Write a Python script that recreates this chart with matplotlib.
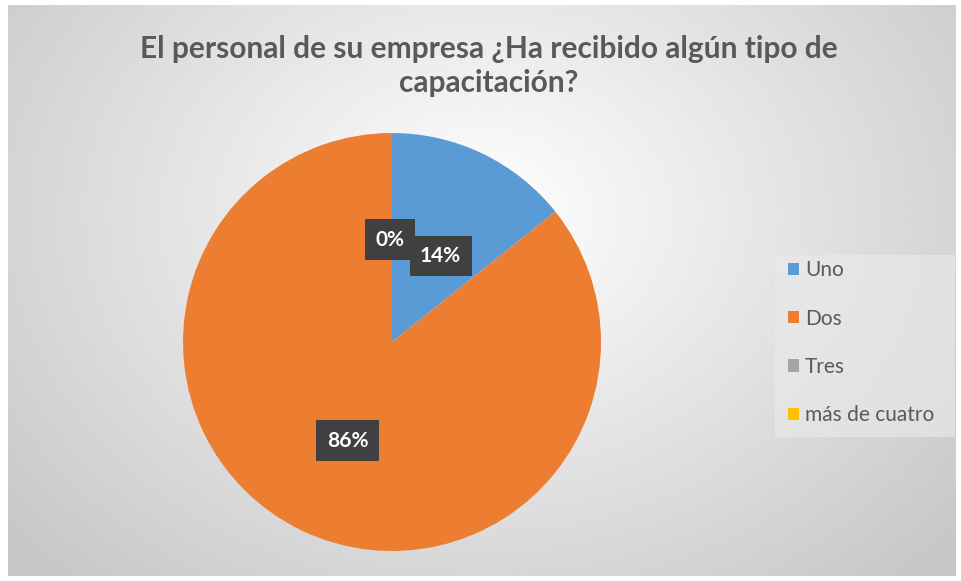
import numpy as np
import matplotlib
matplotlib.use("Agg")
import matplotlib.pyplot as plt
from matplotlib.patches import Rectangle

plt.rcParams["font.family"] = ["Lato", "DejaVu Sans"]

categories = ["Uno", "Dos", "Tres", "más de cuatro"]
counts = [1, 6, 0, 0]
colors = ["#5B9BD5", "#ED7D31", "#A5A5A5", "#FFC000"]
title = "El personal de su empresa ¿Ha recibido algún tipo de\ncapacitación?"

W, H = 961, 581
fig = plt.figure(figsize=(W / 100, H / 100), dpi=100)
fig.patch.set_facecolor("white")

# radial gray gradient background
bg = fig.add_axes([0.008, 0.008, 0.986, 0.984])
yy, xx = np.mgrid[0:300, 0:500]
d = np.sqrt(((xx - 250) / 330.0) ** 2 + ((yy - 110) / 260.0) ** 2)
shade = np.clip(1.0 - 0.22 * d, 0.78, 1.0)
bg.imshow(shade, cmap="gray", vmin=0, vmax=1, aspect="auto",
          extent=[0, 1, 0, 1], origin="upper")
bg.set_xlim(0, 1)
bg.set_ylim(0, 1)
bg.axis("off")

# pie
ax = fig.add_axes([183 / W, 1 - 551 / H, 418 / W, 418 / H])
wedges, texts, autotexts = ax.pie(
    counts, colors=colors, startangle=90, counterclock=False,
    autopct=lambda p: f"{p:.0f}%", pctdistance=0.49,
    wedgeprops=dict(linewidth=0), radius=1.0)
for t in autotexts:
    t.set_color("white")
    t.set_fontsize(15)
    t.set_fontweight("bold")
    t.set_bbox(dict(boxstyle="square,pad=0.5", fc="#404040", ec="none"))
# the 0% labels sit to the left of the 14% one as in the original
x0, y0 = autotexts[0].get_position()
autotexts[0].set_position((x0 + 0.02, y0 - 0.03))
for t in autotexts[2:]:
    x, y = t.get_position()
    t.set_position((x - 0.01, y))
x1, y1 = autotexts[1].get_position()
autotexts[1].set_position((x1, y1 - 0.03))
ax.set_xlim(-1, 1)
ax.set_ylim(-1, 1)
ax.set_aspect("auto")

fig.text(489 / W, 1 - 66 / H, title, ha="center", va="center", fontsize=21.5,
         fontweight="bold", color="#595959", linespacing=1.3)

# legend
leg_ax = fig.add_axes([775 / W, 1 - 437 / H, 180 / W, 182 / H])
leg_ax.axis("off")
leg_ax.add_patch(Rectangle((0, 0), 1, 1, transform=leg_ax.transAxes,
                           fc="#ebebeb", ec="none", alpha=0.6))
handles = [Rectangle((0, 0), 1, 1, fc=c, ec="none") for c in colors]
leg = leg_ax.legend(handles, categories, loc="upper left", bbox_to_anchor=(0.0, 1.04),
                    frameon=False, fontsize=15, handlelength=0.55, handleheight=0.55,
                    handletextpad=0.3, labelspacing=1.36, borderaxespad=0.2)
for t in leg.get_texts():
    t.set_color("#595959")

fig.savefig("out.png", dpi=100)
